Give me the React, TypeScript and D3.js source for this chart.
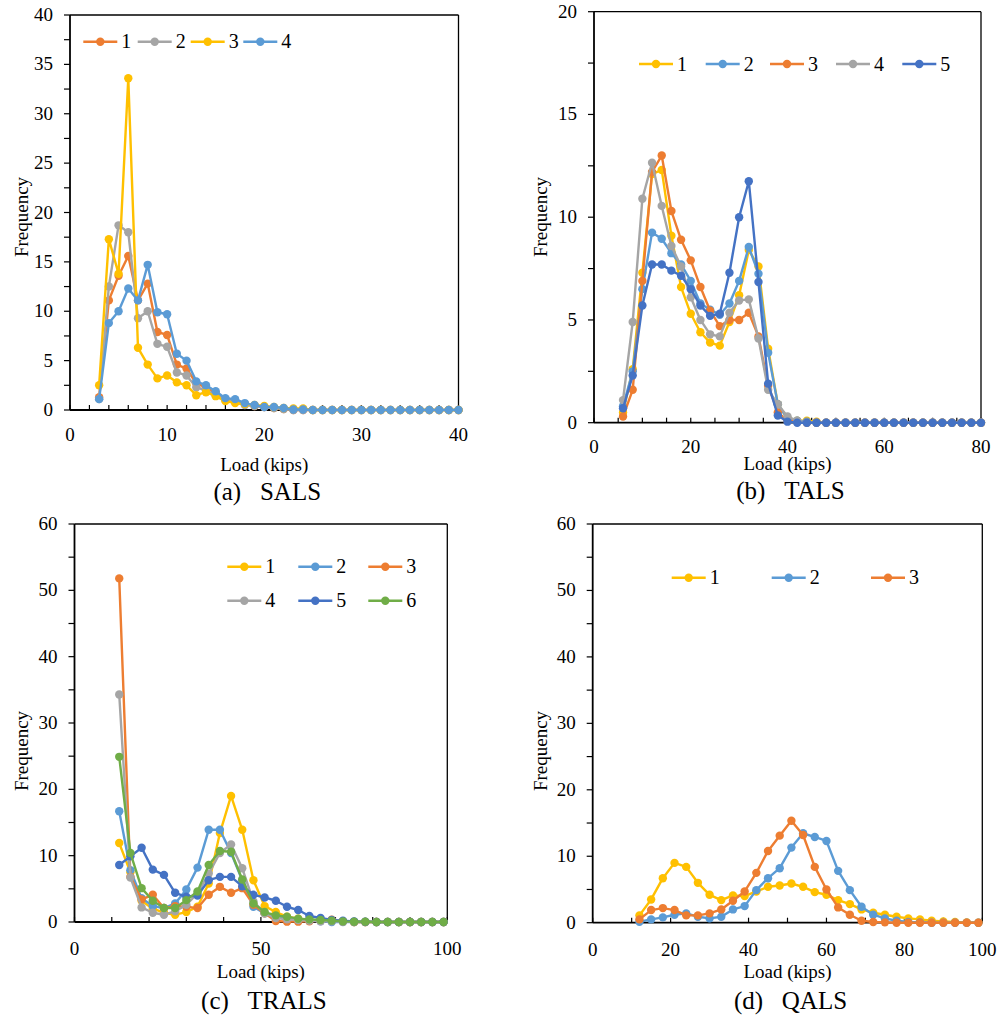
import React from "react";
import * as d3 from "d3";

// Excel default palette
const ORANGE = "#ED7D31";
const GRAY = "#A5A5A5";
const YELLOW = "#FFC000";
const LBLUE = "#5B9BD5";
const DBLUE = "#4472C4";
const GREEN = "#70AD47";

// (a) SALS, load 3..40 kips
const salsLoads = [3, 4, 5, 6, 7, 8, 9, 10, 11, 12, 13, 14, 15, 16, 17, 18, 19, 20, 21, 22, 23, 24, 25, 26, 27, 28, 29, 30, 31, 32, 33, 34, 35, 36, 37, 38, 39, 40];
const sals1 = [1.3, 11.1, 13.6, 15.6, 11.1, 12.8, 7.9, 7.6, 4.6, 4.2, 2.7, 2.3, 1.7, 1.1, 0.9, 0.6, 0.4, 0.3, 0.2, 0.1, 0, 0, 0, 0, 0, 0, 0, 0, 0, 0, 0, 0, 0, 0, 0, 0, 0, 0];
const sals2 = [1.1, 12.5, 18.7, 18.0, 9.3, 10.0, 6.7, 6.4, 3.8, 3.5, 2.3, 2.0, 1.5, 1.0, 0.8, 0.5, 0.4, 0.3, 0.2, 0.1, 0, 0, 0, 0, 0, 0, 0, 0, 0, 0, 0, 0, 0, 0, 0, 0, 0, 0];
const sals3 = [2.5, 17.3, 13.8, 33.6, 6.3, 4.6, 3.2, 3.5, 2.8, 2.5, 1.5, 1.8, 1.4, 0.9, 0.7, 0.6, 0.5, 0.4, 0.3, 0.2, 0.15, 0.15, 0, 0, 0, 0, 0, 0, 0, 0, 0, 0, 0, 0, 0, 0, 0, 0];
const sals4 = [1.1, 8.8, 10.0, 12.3, 11.1, 14.7, 9.9, 9.7, 5.7, 5.0, 2.9, 2.5, 1.9, 1.2, 1.1, 0.7, 0.5, 0.3, 0.3, 0.2, 0.05, 0.05, 0, 0, 0, 0, 0, 0, 0, 0, 0, 0, 0, 0, 0, 0, 0, 0];

// (b) TALS, load 6..80 kips
const talsLoads = [6, 8, 10, 12, 14, 16, 18, 20, 22, 24, 26, 28, 30, 32, 34, 36, 38, 40, 42, 44, 46, 48, 50, 52, 54, 56, 58, 60, 62, 64, 66, 68, 70, 72, 74, 76, 78, 80];
const tals1 = [0.5, 2.6, 7.3, 12.1, 12.3, 9.1, 6.6, 5.3, 4.4, 3.9, 3.75, 4.9, 6.2, 8.4, 7.6, 3.6, 0.9, 0.2, 0.1, 0.1, 0.05, 0, 0, 0, 0, 0, 0, 0, 0, 0, 0, 0, 0, 0, 0, 0, 0, 0];
const tals2 = [0.8, 2.5, 6.5, 9.25, 8.95, 8.25, 7.7, 6.9, 5.8, 5.5, 5.25, 5.8, 6.9, 8.55, 7.25, 3.4, 0.9, 0.2, 0.1, 0.05, 0, 0, 0, 0, 0, 0, 0, 0, 0, 0, 0, 0, 0, 0, 0, 0, 0, 0];
const tals3 = [0.3, 1.6, 6.9, 12.2, 13.0, 10.3, 8.9, 7.9, 6.6, 5.45, 4.7, 5.0, 5.0, 5.35, 4.2, 1.8, 0.5, 0.1, 0.05, 0, 0, 0, 0, 0, 0, 0, 0, 0, 0, 0, 0, 0, 0, 0, 0, 0, 0, 0];
const tals4 = [1.1, 4.9, 10.9, 12.65, 10.55, 8.6, 7.6, 6.1, 5.0, 4.3, 4.2, 5.35, 5.95, 6.0, 4.1, 1.6, 0.9, 0.3, 0.1, 0, 0, 0, 0, 0, 0, 0, 0, 0, 0, 0, 0, 0, 0, 0, 0, 0, 0, 0];
const tals5 = [0.7, 2.3, 5.7, 7.7, 7.7, 7.4, 7.15, 6.5, 5.7, 5.2, 5.3, 7.3, 10.0, 11.75, 6.85, 1.9, 0.35, 0.05, 0, 0, 0, 0, 0, 0, 0, 0, 0, 0, 0, 0, 0, 0, 0, 0, 0, 0, 0, 0];

// (c) TRALS and (d) QALS, load 12..99 kips
const bigLoads = [12, 15, 18, 21, 24, 27, 30, 33, 36, 39, 42, 45, 48, 51, 54, 57, 60, 63, 66, 69, 72, 75, 78, 81, 84, 87, 90, 93, 96, 99];
const trals1 = [11.9, 7.5, 3.2, 2.0, 1.4, 1.1, 1.5, 2.3, 5.8, 13.4, 19.0, 13.9, 6.3, 2.4, 1.5, 0.8, 0.5, 0.3, 0.2, 0.1, 0.05, 0, 0, 0, 0, 0, 0, 0, 0, 0];
const trals2 = [16.7, 7.8, 3.6, 2.4, 2.1, 2.8, 4.9, 8.2, 13.9, 13.9, 10.4, 6.3, 2.3, 1.3, 0.8, 0.5, 0.3, 0.2, 0.1, 0, 0, 0, 0, 0, 0, 0, 0, 0, 0, 0];
const trals3 = [51.8, 6.8, 3.4, 4.1, 2.1, 2.4, 2.3, 2.1, 4.1, 5.3, 4.4, 5.1, 2.6, 1.3, 0.15, 0.05, 0.05, 0.1, 0.2, 0.35, 0.1, 0, 0, 0, 0, 0, 0, 0, 0, 0];
const trals4 = [34.3, 6.7, 2.2, 1.4, 1.1, 1.6, 2.6, 4.3, 7.3, 10.4, 11.7, 8.1, 3.1, 1.3, 0.6, 0.4, 0.3, 0.2, 0.1, 0.1, 0.05, 0, 0, 0, 0, 0, 0, 0, 0, 0];
const trals5 = [8.6, 9.9, 11.2, 7.9, 7.1, 4.4, 3.8, 4.0, 6.3, 6.8, 6.8, 5.4, 4.1, 3.7, 3.2, 2.3, 1.8, 0.9, 0.6, 0.3, 0.2, 0.1, 0.05, 0, 0, 0, 0, 0, 0, 0];
const trals6 = [24.9, 10.4, 5.1, 3.2, 2.1, 2.1, 3.3, 4.6, 8.6, 10.7, 10.6, 6.4, 2.8, 1.5, 1.0, 0.8, 0.5, 0.4, 0.3, 0.2, 0.1, 0.05, 0.05, 0, 0, 0, 0, 0, 0, 0];
const qals1 = [1.1, 3.5, 6.7, 9.0, 8.4, 6.0, 4.2, 3.4, 4.1, 4.0, 4.7, 5.4, 5.6, 5.9, 5.4, 4.6, 4.2, 3.4, 2.8, 2.0, 1.5, 1.2, 0.9, 0.65, 0.5, 0.3, 0.2, 0.1, 0.05, 0];
const qals2 = [0.15, 0.5, 0.8, 1.2, 1.4, 0.9, 0.65, 0.9, 2.0, 2.5, 4.9, 6.7, 8.2, 11.3, 13.45, 12.9, 12.3, 7.8, 4.9, 2.4, 1.2, 0.65, 0.3, 0.1, 0.05, 0, 0, 0, 0, 0];
const qals3 = [0.5, 1.9, 2.2, 1.9, 1.1, 1.1, 1.4, 2.0, 3.3, 4.7, 7.5, 10.8, 13.1, 15.35, 13.2, 8.4, 5.0, 2.3, 1.2, 0.3, 0.1, 0.05, 0, 0, 0, 0, 0, 0, 0, 0];

const FONT = "Liberation Serif, Times New Roman, Times, serif";

type Series = { name: string; color: string; values: number[] };
type PanelCfg = {
  left: number; right: number; top: number; bottom: number;
  xMax: number; yMax: number;
  xTick: number; xLabel: number; yTick: number; yLabel: number;
  loads: number[]; series: Series[];
  legend: [number, number][];
  freqX: number; freqY: number;
  loadY: number; captionY: number; tickDy: number;
  caption: string;
};

const panels: PanelCfg[] = [
  {
    left: 70, right: 458.5, top: 15, bottom: 410, xMax: 40, yMax: 40,
    xTick: 2, xLabel: 10, yTick: 2.5, yLabel: 5, loads: salsLoads,
    series: [
      { name: "1", color: ORANGE, values: sals1 },
      { name: "2", color: GRAY, values: sals2 },
      { name: "3", color: YELLOW, values: sals3 },
      { name: "4", color: LBLUE, values: sals4 },
    ],
    legend: [[83.3, 41.7], [137.7, 41.7], [190.7, 41.7], [243.3, 41.7]],
    freqX: 28, freqY: 217, loadY: 470.5, captionY: 500, tickDy: 30.5,
    caption: "(a)\u00a0\u00a0\u00a0SALS",
  },
  {
    left: 594, right: 981, top: 11.7, bottom: 422.7, xMax: 80, yMax: 20,
    xTick: 5, xLabel: 20, yTick: 2.5, yLabel: 5, loads: talsLoads,
    series: [
      { name: "1", color: YELLOW, values: tals1 },
      { name: "2", color: LBLUE, values: tals2 },
      { name: "3", color: ORANGE, values: tals3 },
      { name: "4", color: GRAY, values: tals4 },
      { name: "5", color: DBLUE, values: tals5 },
    ],
    legend: [[639, 64], [705.7, 64], [770, 64], [836, 64], [902.3, 64]],
    freqX: 547, freqY: 217, loadY: 470, captionY: 499, tickDy: 30,
    caption: "(b)\u00a0\u00a0\u00a0TALS",
  },
  {
    left: 74.5, right: 447.3, top: 524, bottom: 922, xMax: 100, yMax: 60,
    xTick: 10, xLabel: 50, yTick: 5, yLabel: 10, loads: bigLoads,
    series: [
      { name: "1", color: YELLOW, values: trals1 },
      { name: "2", color: LBLUE, values: trals2 },
      { name: "3", color: ORANGE, values: trals3 },
      { name: "4", color: GRAY, values: trals4 },
      { name: "5", color: DBLUE, values: trals5 },
      { name: "6", color: GREEN, values: trals6 },
    ],
    legend: [[227.3, 566.7], [298.3, 566.7], [368.3, 566.7], [227.3, 600.7], [298.3, 600.7], [368.3, 600.7]],
    freqX: 28, freqY: 751, loadY: 978, captionY: 1009, tickDy: 33,
    caption: "(c)\u00a0\u00a0\u00a0TRALS",
  },
  {
    left: 592.7, right: 982.3, top: 524, bottom: 922.7, xMax: 100, yMax: 60,
    xTick: 10, xLabel: 20, yTick: 5, yLabel: 10, loads: bigLoads,
    series: [
      { name: "1", color: YELLOW, values: qals1 },
      { name: "2", color: LBLUE, values: qals2 },
      { name: "3", color: ORANGE, values: qals3 },
    ],
    legend: [[671.7, 577.7], [771.7, 577.7], [871, 577.7]],
    freqX: 547, freqY: 751, loadY: 978, captionY: 1009, tickDy: 33,
    caption: "(d)\u00a0\u00a0\u00a0QALS",
  },
];

function Panel({ p }: { p: PanelCfg }) {
  const x = d3.scaleLinear().domain([0, p.xMax]).range([p.left, p.right]);
  const y = d3.scaleLinear().domain([0, p.yMax]).range([p.bottom, p.top]);
  const xTicks = d3.range(0, p.xMax + 1e-6, p.xTick);
  const yTicks = d3.range(0, p.yMax + 1e-6, p.yTick);
  const isLabel = (v: number, step: number) => Math.abs(v / step - Math.round(v / step)) < 1e-6;
  const line = d3
    .line<number>()
    .x((_, i) => x(p.loads[i]))
    .y((v) => y(v));
  const cx = (p.left + p.right) / 2;

  return (
    <g fill="#000">
      {/* frame */}
      <line x1={p.left} x2={p.right} y1={p.top} y2={p.top} stroke="#000" strokeWidth={1.3} />
      <line x1={p.right} x2={p.right} y1={p.top} y2={p.bottom} stroke="#000" strokeWidth={1.3} />
      {/* x ticks */}
      {xTicks.map((t) => (
        <line key={"xt" + t} x1={x(t)} x2={x(t)} y1={p.bottom} y2={p.bottom - 5} stroke="#000" strokeWidth={1.2} />
      ))}
      {xTicks.filter((t) => isLabel(t, p.xLabel)).map((t) => (
        <text key={"xl" + t} x={x(t)} y={p.bottom + p.tickDy} fontFamily={FONT} fontSize={19} textAnchor="middle">{t}</text>
      ))}
      {/* y ticks */}
      {yTicks.map((t) => (
        <line key={"yt" + t} x1={p.left - 6} x2={p.left} y1={y(t)} y2={y(t)} stroke="#000" strokeWidth={1.2} />
      ))}
      {yTicks.filter((t) => isLabel(t, p.yLabel)).map((t) => (
        <text key={"yl" + t} x={p.left - 17} y={y(t) + 6} fontFamily={FONT} fontSize={19} textAnchor="end">{t}</text>
      ))}
      {/* axes */}
      <line x1={p.left} x2={p.left} y1={p.top} y2={p.bottom} stroke="#000" strokeWidth={1.8} />
      <line x1={p.left} x2={p.right} y1={p.bottom} y2={p.bottom} stroke="#000" strokeWidth={1.8} />
      {/* series */}
      {p.series.map((s) => (
        <g key={"s" + s.name}>
          <path d={line(s.values) || ""} fill="none" stroke={s.color} strokeWidth={2.4} strokeLinejoin="round" />
          {s.values.map((v, i) => (
            <circle key={i} cx={x(p.loads[i])} cy={y(v)} r={4.2} fill={s.color} />
          ))}
        </g>
      ))}
      {/* legend */}
      {p.series.map((s, i) => {
        const [lx, ly] = p.legend[i];
        return (
          <g key={"lg" + s.name}>
            <line x1={lx} x2={lx + 34} y1={ly} y2={ly} stroke={s.color} strokeWidth={2.4} />
            <circle cx={lx + 17} cy={ly} r={4.2} fill={s.color} />
            <text x={lx + 38} y={ly + 6.5} fontFamily={FONT} fontSize={20}>{s.name}</text>
          </g>
        );
      })}
      {/* titles */}
      <text x={cx} y={p.loadY} fontFamily={FONT} fontSize={19} textAnchor="middle">Load (kips)</text>
      <text transform={`translate(${p.freqX},${p.freqY}) rotate(-90)`} fontFamily={FONT} fontSize={19} textAnchor="middle">Frequency</text>
      <text x={cx + 3} y={p.captionY} fontFamily={FONT} fontSize={25} textAnchor="middle">{p.caption}</text>
    </g>
  );
}

export default function App() {
  return (
    <svg
      width={1002}
      height={1018}
      style={{ position: "absolute", left: 0, top: 0, background: "#fff" }}
    >
      {panels.map((p, i) => (
        <Panel key={i} p={p} />
      ))}
    </svg>
  );
}
